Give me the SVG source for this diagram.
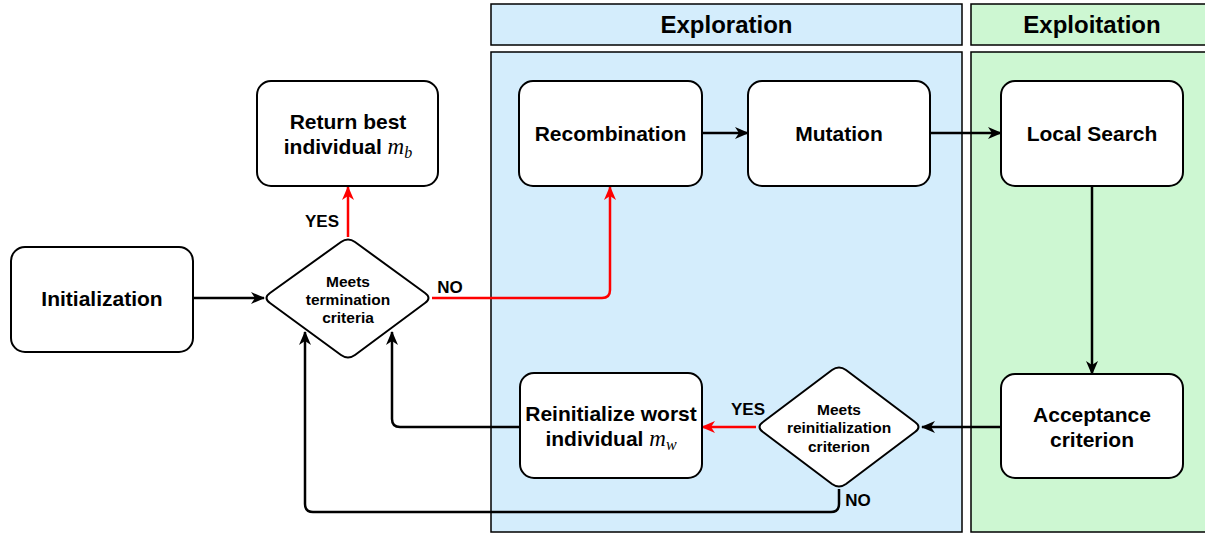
<svg xmlns="http://www.w3.org/2000/svg" width="1205" height="534" viewBox="0 0 1205 534">
<style>
.box{fill:#fff;stroke:#000;stroke-width:2}
.t{font-family:"Liberation Sans",Arial,sans-serif;font-weight:bold;font-size:21px;text-anchor:middle;fill:#000}
.d{font-family:"Liberation Sans",Arial,sans-serif;font-weight:bold;font-size:15.5px;text-anchor:middle;fill:#000}
.l{font-family:"Liberation Sans",Arial,sans-serif;font-weight:bold;font-size:17px;text-anchor:middle;fill:#000}
.h{font-family:"Liberation Sans",Arial,sans-serif;font-weight:bold;font-size:24px;text-anchor:middle;fill:#000}
.m{font-family:"Liberation Serif","Times New Roman",serif;font-style:italic;font-weight:normal}
.e{fill:none;stroke:#000;stroke-width:2.5}
.r{fill:none;stroke:#f00;stroke-width:2.5}
</style>
<defs>
<marker id="ak" viewBox="0 0 14 12" refX="13" refY="6" markerWidth="14" markerHeight="12" markerUnits="userSpaceOnUse" orient="auto"><path d="M0,0 L14,6 L0,12 L4,6 Z" fill="#000"/></marker>
<marker id="ar" viewBox="0 0 14 12" refX="13" refY="6" markerWidth="14" markerHeight="12" markerUnits="userSpaceOnUse" orient="auto"><path d="M0,0 L14,6 L0,12 L4,6 Z" fill="#f00"/></marker>
</defs>
<rect width="1205" height="534" fill="#fff"/>
<g id="lanes">
<rect x="491" y="4" width="471" height="41" fill="#d4edfc" stroke="#000" stroke-width="1.5"/>
<text class="h" x="726.5" y="33">Exploration</text>
<rect x="491" y="52" width="471" height="480" fill="#d4edfc" stroke="#000" stroke-width="1.5"/>
<rect x="971" y="4" width="240" height="41" fill="#cdf7d2" stroke="#000" stroke-width="1.5"/>
<text class="h" x="1092" y="33">Exploitation</text>
<rect x="971" y="52" width="240" height="480" fill="#cdf7d2" stroke="#000" stroke-width="1.5"/>
</g>
<g id="connectors">
<path class="e" d="M193,298 L264,298" marker-end="url(#ak)"/>
<path class="r" d="M348,237 L348,187" marker-end="url(#ar)"/>
<path class="r" d="M432,298 L602,298 Q610,298 610,290 L610,187" marker-end="url(#ar)"/>
<path class="e" d="M702,133 L748,133" marker-end="url(#ak)"/>
<path class="e" d="M930,133 L1001,133" marker-end="url(#ak)"/>
<path class="e" d="M1092,186 L1092,374" marker-end="url(#ak)"/>
<path class="e" d="M1001,427 L922,427" marker-end="url(#ak)"/>
<path class="r" d="M756,427 L702,427" marker-end="url(#ar)"/>
<path class="e" d="M520,427 L400,427 Q392,427 392,419 L392,332" marker-end="url(#ak)"/>
<path class="e" d="M839,489 L839,504 Q839,512 831,512 L313,512 Q305,512 305,504 L305,332" marker-end="url(#ak)"/>
<text class="l" x="322" y="227">YES</text>
<text class="l" x="450" y="293">NO</text>
<text class="l" x="748" y="415">YES</text>
<text class="l" x="858" y="506">NO</text>
</g>
<g id="init">
<rect class="box" x="11" y="247" width="182" height="105" rx="14"/>
<text class="t" x="102" y="306">Initialization</text>
</g>
<g id="term">
<path class="box" d="M341,242 Q348,237 355,242 L425,293 Q432,298 425,303 L355,355 Q348,360 341,355 L270,303 Q263,298 270,293 Z"/>
<text class="d" x="348" y="287">Meets</text>
<text class="d" x="348" y="305">termination</text>
<text class="d" x="348" y="323">criteria</text>
</g>
<g id="ret">
<rect class="box" x="257" y="81" width="181" height="105" rx="14"/>
<text class="t" x="348" y="129">Return best</text>
<text class="t" x="348" y="154">individual <tspan class="m" font-size="23">m</tspan><tspan class="m" font-size="16" dy="4">b</tspan></text>
</g>
<g id="recomb">
<rect class="box" x="519" y="81" width="183" height="105" rx="14"/>
<text class="t" x="610.5" y="141">Recombination</text>
</g>
<g id="mut">
<rect class="box" x="748" y="81" width="182" height="105" rx="14"/>
<text class="t" x="839" y="141">Mutation</text>
</g>
<g id="ls">
<rect class="box" x="1001" y="81" width="182" height="105" rx="14"/>
<text class="t" x="1092" y="141">Local Search</text>
</g>
<g id="acc">
<rect class="box" x="1001" y="374" width="182" height="104" rx="14"/>
<text class="t" x="1092" y="422">Acceptance</text>
<text class="t" x="1092" y="447">criterion</text>
</g>
<g id="reinitdec">
<path class="box" d="M832,370 Q839,365 846,370 L915,422 Q922,427 915,432 L846,484 Q839,489 832,484 L763,432 Q756,427 763,422 Z"/>
<text class="d" x="839" y="415">Meets</text>
<text class="d" x="839" y="433">reinitialization</text>
<text class="d" x="839" y="452">criterion</text>
</g>
<g id="reinit">
<rect class="box" x="520" y="373" width="182" height="105" rx="14"/>
<text class="t" x="611" y="421">Reinitialize worst</text>
<text class="t" x="611" y="446">individual <tspan class="m" font-size="23">m</tspan><tspan class="m" font-size="16" dy="4">w</tspan></text>
</g>
</svg>
